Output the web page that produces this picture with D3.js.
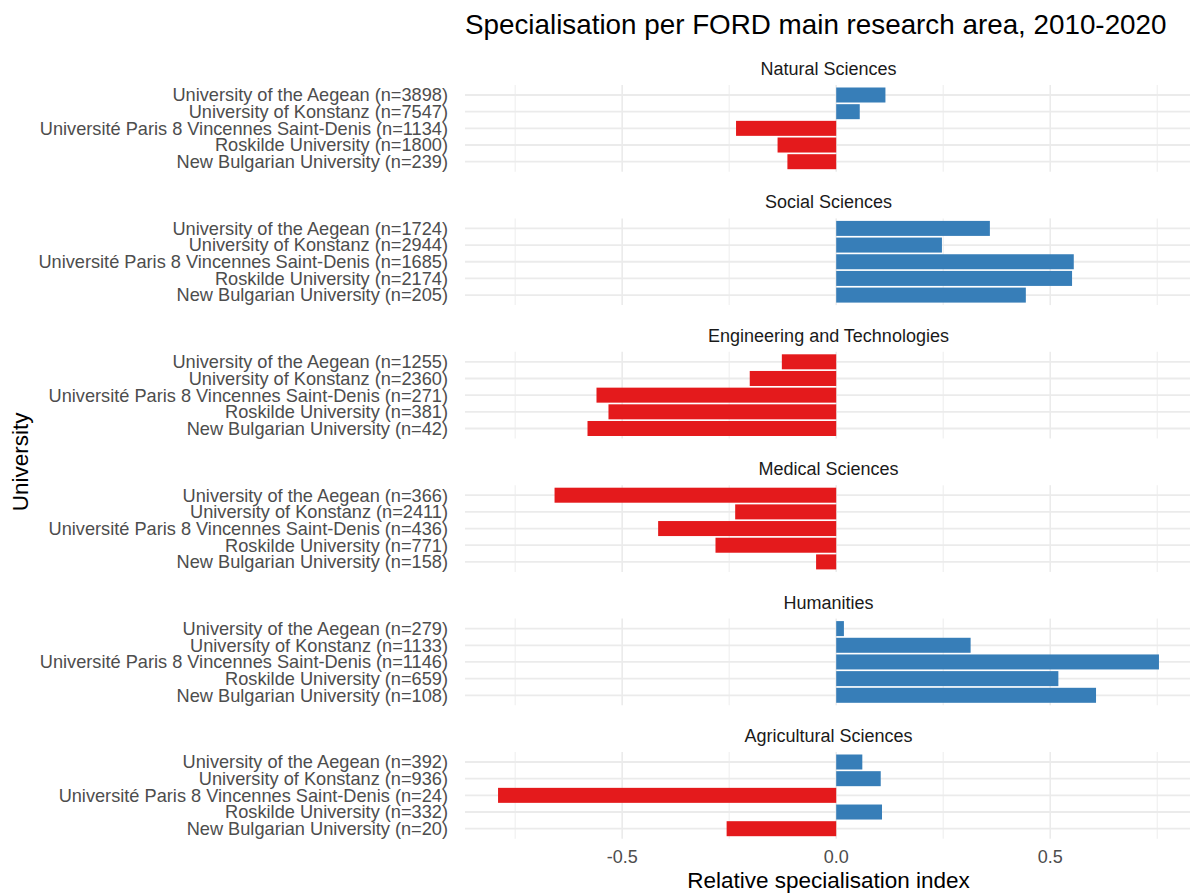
<!DOCTYPE html>
<html>
<head>
<meta charset="utf-8">
<script src="https://cdnjs.cloudflare.com/ajax/libs/d3/7.8.5/d3.min.js"></script>
<style>
body{margin:0;background:#fff;}
svg{display:block;font-family:"Liberation Sans",Arial,sans-serif;}
</style>
</head>
<body>
<svg id="chart"></svg>
<script>
//the research areas, one panel each, top to bottom
var areas = ["Natural Sciences","Social Sciences","Engineering and Technologies",
             "Medical Sciences","Humanities","Agricultural Sciences"]

//universities in the order they appear in each panel
var universities = ["University of the Aegean","University of Konstanz",
                    "Université Paris 8 Vincennes Saint-Denis","Roskilde University",
                    "New Bulgarian University"]

//number of publications per university, per area
var nNatural = [3898,7547,1134,1800,239]
var nSocial = [1724,2944,1685,2174,205]
var nEngineering = [1255,2360,271,381,42]
var nMedical = [366,2411,436,771,158]
var nHumanities = [279,1133,1146,659,108]
var nAgricultural = [392,936,24,332,20]

//relative specialisation index per university, per area
var rsiNatural = [0.115,0.055,-0.234,-0.137,-0.114]
var rsiSocial = [0.359,0.247,0.555,0.551,0.443]
var rsiEngineering = [-0.127,-0.202,-0.560,-0.532,-0.581]
var rsiMedical = [-0.658,-0.236,-0.416,-0.282,-0.047]
var rsiHumanities = [0.018,0.314,0.754,0.519,0.607]
var rsiAgricultural = [0.061,0.104,-0.790,0.107,-0.256]

//tick labels on the x axis
var xMajor = [-0.5,0,0.5]
var xMajorLabels = ["-0.5","0.0","0.5"]
var xMinor = [-0.75,-0.25,0.25,0.75]

var counts = [nNatural,nSocial,nEngineering,nMedical,nHumanities,nAgricultural]
var values = [rsiNatural,rsiSocial,rsiEngineering,rsiMedical,rsiHumanities,rsiAgricultural]

//build a row for each panel
var panels = areas.map(function(area,i)
{
    return {
        area:area,
        rows:universities.map(function(u,j)
        {
            return {label:u+" (n="+counts[i][j]+")",value:values[i][j]};
        })
    }
})

var screen = {width:1190,height:894};
var panelTop = 85;
var panelPitch = 133.4;
var panelHeight = 86.7;

var svg = d3.select("#chart")
    .attr("width",screen.width)
    .attr("height",screen.height)

//x scale with ggplot's 5% expansion
var all = d3.merge(values).concat([0]);
var ext = d3.extent(all);
var pad = (ext[1]-ext[0])*0.05;
var xScale = d3.scaleLinear()
    .domain([ext[0]-pad,ext[1]+pad])
    .range([465,1192])

var drawPanel = function(panel,i)
{
    var top = panelTop + i*panelPitch;
    var yScale = d3.scaleBand()
        .domain(panel.rows.map(function(r){return r.label}))
        .range([top,top+panelHeight])
        .paddingInner(0.1)
        .paddingOuter(0.15)

    var g = svg.append("g").attr("class","panel")

    //minor vertical grid
    g.selectAll(".minor")
        .data(xMinor)
        .enter()
        .append("line")
        .attr("x1",function(d){return xScale(d)})
        .attr("x2",function(d){return xScale(d)})
        .attr("y1",top)
        .attr("y2",top+panelHeight)
        .attr("stroke","#f0f0f0")
        .attr("stroke-width",1.2)

    //major vertical grid
    g.selectAll(".major")
        .data(xMajor)
        .enter()
        .append("line")
        .attr("x1",function(d){return xScale(d)})
        .attr("x2",function(d){return xScale(d)})
        .attr("y1",top)
        .attr("y2",top+panelHeight)
        .attr("stroke","#ebebeb")
        .attr("stroke-width",1.6)

    //horizontal grid on each university
    g.selectAll(".hgrid")
        .data(panel.rows)
        .enter()
        .append("line")
        .attr("x1",xScale.range()[0])
        .attr("x2",xScale.range()[1])
        .attr("y1",function(r){return yScale(r.label)+yScale.bandwidth()/2})
        .attr("y2",function(r){return yScale(r.label)+yScale.bandwidth()/2})
        .attr("stroke","#ebebeb")
        .attr("stroke-width",1.8)

    //the bars
    g.selectAll("rect")
        .data(panel.rows)
        .enter()
        .append("rect")
        .attr("x",function(r){return xScale(Math.min(0,r.value))})
        .attr("width",function(r){return Math.abs(xScale(r.value)-xScale(0))})
        .attr("y",function(r){return yScale(r.label)})
        .attr("height",yScale.bandwidth())
        .attr("fill",function(r){return r.value<0 ? "#E41A1C" : "#377EB8"})

    //university labels
    g.selectAll(".ylab")
        .data(panel.rows)
        .enter()
        .append("text")
        .attr("x",448)
        .attr("y",function(r){return yScale(r.label)+yScale.bandwidth()/2})
        .attr("dy","0.35em")
        .attr("text-anchor","end")
        .attr("font-size",18.2)
        .attr("fill","#4d4d4d")
        .text(function(r){return r.label})

    //strip title
    g.append("text")
        .attr("x",(xScale.range()[0]+xScale.range()[1])/2)
        .attr("y",top-10)
        .attr("text-anchor","middle")
        .attr("font-size",18)
        .attr("fill","#1a1a1a")
        .text(panel.area)
}

panels.forEach(drawPanel)

//x tick labels under the last panel
svg.selectAll(".xtick")
    .data(xMajor)
    .enter()
    .append("text")
    .attr("x",function(d){return xScale(d)})
    .attr("y",863)
    .attr("text-anchor","middle")
    .attr("font-size",18)
    .attr("fill","#4d4d4d")
    .text(function(d,i){return xMajorLabels[i]})

//axis titles
svg.append("text")
    .attr("x",(xScale.range()[0]+xScale.range()[1])/2)
    .attr("y",888)
    .attr("text-anchor","middle")
    .attr("font-size",22.5)
    .attr("fill","#000")
    .text("Relative specialisation index")

svg.append("text")
    .attr("transform","translate(28,"+(panelTop+(5*panelPitch+panelHeight)/2)+") rotate(-90)")
    .attr("text-anchor","middle")
    .attr("font-size",22.5)
    .attr("fill","#000")
    .text("University")

//plot title
svg.append("text")
    .attr("x",465)
    .attr("y",34)
    .attr("font-size",27.8)
    .attr("fill","#000")
    .text("Specialisation per FORD main research area, 2010-2020")
</script>
</body>
</html>
